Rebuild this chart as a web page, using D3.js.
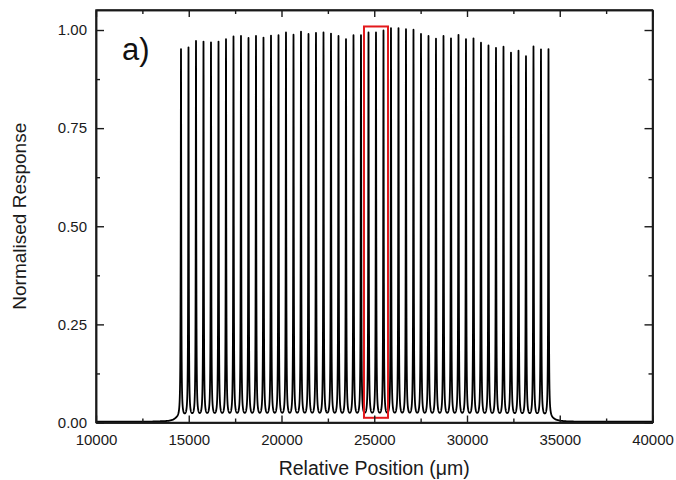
<!DOCTYPE html>
<html>
<head>
<meta charset="utf-8">
<script src="https://cdn.jsdelivr.net/npm/d3@7"></script>
<style>
  html, body { margin: 0; padding: 0; background: #fff; }
  svg { display: block; font-family: Arial, "Liberation Sans", sans-serif; }
</style>
</head>
<body>
<svg id="chart" width="676" height="480"></svg>
<script>
// ---- data ----
const peakPositions = [14582, 14986, 15391, 15795, 16199, 16604, 17008, 17412, 17816, 18221,
  18625, 19029, 19434, 19838, 20242, 20647, 21051, 21455, 21859, 22264,
  22668, 23072, 23477, 23881, 24285, 24690, 25094, 25498, 25902, 26307,
  26711, 27115, 27520, 27924, 28328, 28733, 29137, 29541, 29945, 30350,
  30754, 31158, 31563, 31967, 32371, 32776, 33180, 33584, 33988, 34393];
const peakHeights = [0.949, 0.952, 0.968, 0.966, 0.964, 0.966, 0.972, 0.979, 0.980, 0.975,
  0.980, 0.976, 0.981, 0.982, 0.989, 0.983, 0.991, 0.985, 0.988, 0.989,
  0.986, 0.980, 0.972, 0.982, 0.982, 0.989, 0.989, 0.994, 1.000, 1.000,
  0.997, 0.996, 0.985, 0.980, 0.973, 0.980, 0.974, 0.983, 0.972, 0.974,
  0.963, 0.956, 0.950, 0.953, 0.938, 0.943, 0.929, 0.954, 0.947, 0.949];
// slowly varying pedestal under the peaks
const baseX = [10000, 13000, 13900, 14150, 14350, 14500, 34450, 34600, 34800, 35100, 35500, 40000];
const baseY = [0.002, 0.002, 0.003, 0.005, 0.009, 0.010, 0.010, 0.008, 0.005, 0.003, 0.002, 0.002];
const xTicks = [10000, 15000, 20000, 25000, 30000, 35000, 40000];
const xMinorTicks = [12500, 17500, 22500, 27500, 32500, 37500];
const yTicks = [0, 0.25, 0.5, 0.75, 1.0];
const yMinorTicks = [0.125, 0.375, 0.625, 0.875];
const highlightRange = [24447, 25741];
const highlightValues = [0.012, 1.009];

// ---- layout ----
const svg = d3.select("#chart");
const L = 96, R = 652.5, T = 10, B = 422.5;
const x = d3.scaleLinear().domain([10000, 40000]).range([L, R]);
const y = d3.scaleLinear().domain([0, 1.051]).range([B, T]);
const axisColor = "#1a1a1a";

// ---- signal: pedestal + Lorentzian peaks ----
const gamma = 16;
const base = d3.scaleLinear().domain(baseX).range(baseY).clamp(true);
const xs = Array.from(new Set(d3.range(10000, 40001, 4).concat(peakPositions))).sort((a, b) => a - b);
const signal = xs.map(v => {
  let s = base(v);
  for (let i = 0; i < peakPositions.length; i++) {
    const d = (v - peakPositions[i]) / gamma;
    s += (peakHeights[i] - base(peakPositions[i])) / (1 + d * d);
  }
  return [v, s];
});

const clipId = "plotclip";
svg.append("clipPath").attr("id", clipId).append("rect")
  .attr("x", L).attr("y", T).attr("width", R - L).attr("height", B - T);

svg.append("path")
  .datum(signal)
  .attr("clip-path", `url(#${clipId})`)
  .attr("fill", "none")
  .attr("stroke", "#000")
  .attr("stroke-width", 1.8)
  .attr("stroke-linejoin", "round")
  .attr("d", d3.line().x(d => x(d[0])).y(d => y(d[1])));

// red highlight box
svg.append("rect")
  .attr("x", x(highlightRange[0]))
  .attr("y", y(highlightValues[1]))
  .attr("width", x(highlightRange[1]) - x(highlightRange[0]))
  .attr("height", y(highlightValues[0]) - y(highlightValues[1]))
  .attr("fill", "none")
  .attr("stroke", "#e3191c")
  .attr("stroke-width", 2);

// ---- axes ----
function styleAxis(g) {
  g.selectAll(".domain").attr("stroke", axisColor).attr("stroke-width", 1.5);
  g.selectAll(".tick line").attr("stroke", axisColor).attr("stroke-width", 1.4);
  g.selectAll(".tick text").attr("fill", "#1a1a1a").style("font-size", "15px")
    .style("font-family", "Arial, 'Liberation Sans', sans-serif");
}
const fmtY = d3.format(".2f");
// bottom
svg.append("g").attr("transform", `translate(0,${B})`)
  .call(d3.axisBottom(x).tickValues(xTicks).tickFormat(d3.format("d")).tickSize(-7).tickSizeOuter(0).tickPadding(12))
  .call(styleAxis);
svg.append("g").attr("transform", `translate(0,${B})`)
  .call(d3.axisBottom(x).tickValues(xMinorTicks).tickFormat("").tickSize(-4).tickSizeOuter(0))
  .call(styleAxis);
// top
svg.append("g").attr("transform", `translate(0,${T})`)
  .call(d3.axisTop(x).tickValues(xTicks).tickFormat("").tickSize(-7).tickSizeOuter(0))
  .call(styleAxis);
svg.append("g").attr("transform", `translate(0,${T})`)
  .call(d3.axisTop(x).tickValues(xMinorTicks).tickFormat("").tickSize(-4).tickSizeOuter(0))
  .call(styleAxis);
// left
svg.append("g").attr("transform", `translate(${L},0)`)
  .call(d3.axisLeft(y).tickValues(yTicks).tickFormat(fmtY).tickSize(-8).tickSizeOuter(0).tickPadding(9))
  .call(styleAxis);
svg.append("g").attr("transform", `translate(${L},0)`)
  .call(d3.axisLeft(y).tickValues(yMinorTicks).tickFormat("").tickSize(-4).tickSizeOuter(0))
  .call(styleAxis);
// right
svg.append("g").attr("transform", `translate(${R},0)`)
  .call(d3.axisRight(y).tickValues(yTicks).tickFormat("").tickSize(-8).tickSizeOuter(0))
  .call(styleAxis);
svg.append("g").attr("transform", `translate(${R},0)`)
  .call(d3.axisRight(y).tickValues(yMinorTicks).tickFormat("").tickSize(-4).tickSizeOuter(0))
  .call(styleAxis);

// frame
svg.append("rect").attr("x", L).attr("y", T).attr("width", R - L).attr("height", B - T)
  .attr("fill", "none").attr("stroke", axisColor).attr("stroke-width", 1.5);

// ---- titles ----
svg.append("text")
  .attr("x", (L + R) / 2).attr("y", 475)
  .attr("text-anchor", "middle")
  .attr("fill", "#1a1a1a").style("font-size", "19.5px")
  .text("Relative Position (μm)");
svg.append("text")
  .attr("transform", `translate(26,${(T + B) / 2}) rotate(-90)`)
  .attr("text-anchor", "middle")
  .attr("fill", "#1a1a1a").style("font-size", "19px")
  .text("Normalised Response");
svg.append("text")
  .attr("x", 122).attr("y", 60)
  .attr("fill", "#111").style("font-size", "31px")
  .text("a)");
</script>
</body>
</html>
